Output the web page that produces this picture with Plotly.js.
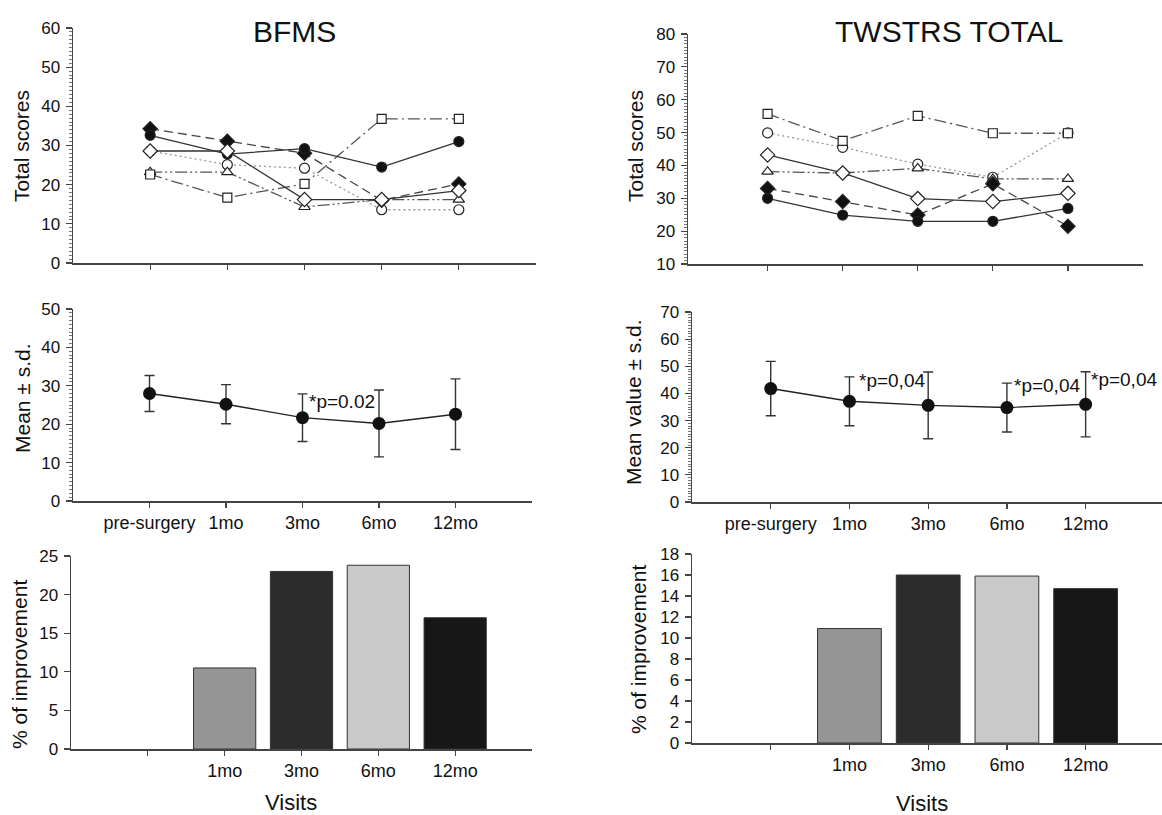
<!DOCTYPE html>
<html><head><meta charset="utf-8">
<script src="https://cdn.plot.ly/plotly-3.0.1.min.js"></script>
<style>html,body{margin:0;padding:0;background:#fff}#chart{width:1162px;height:815px}</style>
</head><body><div id="chart"></div>
<script>
// ---------- data ----------
const visits = ['pre-surgery', '1mo', '3mo', '6mo', '12mo'];
const barTickText = ['', '1mo', '3mo', '6mo', '12mo'];

// BFMS individual patients
const bfmsP1 = [32.6, 27.8, 29.2, 24.5, 31.0];
const bfmsP2 = [34.3, 31.1, 28.0, 16.0, 20.2];
const bfmsP3 = [28.6, 28.6, 16.2, 16.2, 18.5];
const bfmsP4 = [28.6, 25.1, 24.2, 13.6, 13.6];
const bfmsP5 = [23.2, 23.2, 14.3, 16.2, 16.2];
const bfmsP6 = [22.6, 16.7, 20.2, 36.8, 36.8];

// TWSTRS individual patients
const twP1 = [30.0, 24.9, 23.0, 23.0, 26.9];
const twP2 = [33.0, 29.0, 24.9, 34.4, 21.5];
const twP3 = [43.2, 37.7, 29.9, 29.0, 31.5];
const twP4 = [49.9, 45.5, 40.4, 36.4, 49.9];
const twP5 = [38.1, 37.7, 39.1, 35.9, 35.9];
const twP6 = [55.7, 47.5, 55.1, 49.8, 49.8];

// means and s.d.
const bfmsMean = [28.0, 25.2, 21.7, 20.2, 22.6];
const bfmsSD   = [4.7, 5.1, 6.2, 8.7, 9.2];
const twMean   = [41.8, 37.1, 35.6, 34.8, 36.0];
const twSD     = [10.0, 9.0, 12.3, 9.0, 12.0];

// % of improvement
const bfmsImp = [null, 10.5, 23.0, 23.8, 17.0];
const twImp   = [null, 10.9, 16.0, 15.9, 14.7];

// significance labels
const bfmsPText = ['3mo'];
const twPText = ['1mo', '6mo', '12mo'];

// ---------- styles ----------
const FONT = 'Liberation Sans, Arial, Helvetica, sans-serif';
const AX = '#444';
const barColors = ['#ffffff', '#959595', '#2c2c2c', '#c9c9c9', '#171717'];
const patientStyles = [
  {symbol: 'circle', fill: '#111', size: 10, dash: 'solid', lc: '#333'},
  {symbol: 'diamond', fill: '#111', size: 11, dash: '9px,5px', lc: '#444'},
  {symbol: 'diamond', fill: '#fff', size: 11, dash: 'solid', lc: '#333'},
  {symbol: 'circle', fill: '#fff', size: 10, dash: '2px,3px', lc: '#999'},
  {symbol: 'triangle-up', fill: '#fff', size: 10, dash: '12px,3px,2px,3px,2px,3px', lc: '#555'},
  {symbol: 'square', fill: '#fff', size: 9, dash: '12px,4px,2px,4px', lc: '#555'}
];
const order = [3, 4, 5, 1, 0, 2];

function patientTraces(series, xa, ya) {
  return order.map(i => {
    const s = patientStyles[i];
    return {
      type: 'scatter', mode: 'lines+markers', x: visits, y: series[i],
      xaxis: xa, yaxis: ya, showlegend: false, hoverinfo: 'y',
      line: {color: s.lc, width: 1.3, dash: s.dash},
      marker: {symbol: s.symbol, size: s.size, color: s.fill, line: {color: '#222', width: 1.2}}
    };
  });
}

const traces = [].concat(
  patientTraces([bfmsP1, bfmsP2, bfmsP3, bfmsP4, bfmsP5, bfmsP6], 'x', 'y'),
  patientTraces([twP1, twP2, twP3, twP4, twP5, twP6], 'x2', 'y2'),
  [
    {type: 'scatter', mode: 'lines+markers', x: visits, y: bfmsMean, xaxis: 'x3', yaxis: 'y3',
     showlegend: false, line: {color: '#222', width: 1.4},
     marker: {size: 13, color: '#111'},
     error_y: {type: 'data', array: bfmsSD, visible: true, color: '#333', thickness: 1.4, width: 5}},
    {type: 'scatter', mode: 'lines+markers', x: visits, y: twMean, xaxis: 'x4', yaxis: 'y4',
     showlegend: false, line: {color: '#222', width: 1.4},
     marker: {size: 13, color: '#111'},
     error_y: {type: 'data', array: twSD, visible: true, color: '#333', thickness: 1.4, width: 5}},
    {type: 'bar', x: visits, y: bfmsImp, xaxis: 'x5', yaxis: 'y5', showlegend: false,
     marker: {color: barColors, line: {color: '#333', width: 1}}},
    {type: 'bar', x: visits, y: twImp, xaxis: 'x6', yaxis: 'y6', showlegend: false,
     marker: {color: barColors, line: {color: '#333', width: 1}}}
  ]
);

function xax(domain, range, anchor, labels, ticktext) {
  const a = {
    domain: domain, range: range, anchor: anchor, type: 'category',
    categoryorder: 'array', categoryarray: visits,
    showline: true, linecolor: AX, linewidth: 1.5, ticks: 'outside', ticklen: 5,
    tickcolor: AX, tickwidth: 1.2, showgrid: false, zeroline: false,
    showticklabels: labels, tickfont: {family: FONT, size: 18, color: '#111'}, fixedrange: true
  };
  if (ticktext) { a.tickmode = 'array'; a.tickvals = visits; a.ticktext = ticktext; }
  return a;
}
function yax(domain, range, dtick, anchor, minor) {
  const a = {
    domain: domain, range: range, dtick: dtick, anchor: anchor,
    showline: true, linecolor: AX, linewidth: 1.5, ticks: 'outside', ticklen: 6,
    tickcolor: AX, tickwidth: 1.2, showgrid: false, zeroline: false, ticklabelstandoff: 2,
    tickfont: {family: FONT, size: 17, color: '#111'}, fixedrange: true
  };
  if (minor) a.minor = {dtick: 1, ticks: 'outside', ticklen: 3, tickcolor: '#777', tickwidth: 1};
  return a;
}

const W = 1162, H = 815;
const px = v => v / W, py = v => 1 - v / H;

function ytitle(text, x, y) {
  return {text: text, xref: 'paper', yref: 'paper', x: px(x), y: py(y), textangle: -90,
    showarrow: false, xanchor: 'center', yanchor: 'middle', font: {family: FONT, size: 21, color: '#111'}};
}
function ptext(xa, ya, x, y, shift) {
  return {text: '*p=' + (xa === 'x3' ? '0.02' : '0,04'),
    xref: xa, yref: ya, x: x, y: y, xanchor: 'left', yanchor: 'middle', xshift: shift,
    showarrow: false, font: {family: FONT, size: 19, color: '#111'}};
}

const layout = {
  width: W, height: H, margin: {l: 0, r: 0, t: 0, b: 0},
  paper_bgcolor: '#fff', plot_bgcolor: '#fff', showlegend: false, bargap: 0.19,
  font: {family: FONT, color: '#111'},
  xaxis:  xax([px(73), px(536)], [-1, 5], 'y', false),
  yaxis:  yax([py(263), py(28)], [0, 60], 10, 'x', true),
  xaxis2: xax([px(688), px(1143)], [-1.06, 5], 'y2', false),
  yaxis2: yax([py(264), py(34)], [10, 80], 10, 'x2', true),
  xaxis3: xax([px(73), px(532)], [-1, 5], 'y3', true),
  yaxis3: yax([py(501), py(309)], [0, 50], 10, 'x3', true),
  xaxis4: xax([px(692), px(1162)], [-1, 4.97], 'y4', true),
  yaxis4: yax([py(502), py(312)], [0, 70], 10, 'x4', true),
  xaxis5: xax([px(71), px(532)], [-1, 5], 'y5', true, barTickText),
  yaxis5: yax([py(749), py(556)], [0, 25], 5, 'x5', false),
  xaxis6: xax([px(692), px(1162)], [-1, 4.97], 'y6', true, barTickText),
  yaxis6: yax([py(743), py(554)], [0, 18], 2, 'x6', false),
  annotations: [
    {text: 'BFMS', xref: 'paper', yref: 'paper', x: px(294), y: py(31), showarrow: false,
     xanchor: 'center', yanchor: 'middle', font: {family: FONT, size: 30, color: '#111'}},
    {text: 'TWSTRS TOTAL', xref: 'paper', yref: 'paper', x: px(949), y: py(31), showarrow: false,
     xanchor: 'center', yanchor: 'middle', font: {family: FONT, size: 30, color: '#111'}},
    ytitle('Total scores', 22, 146),
    ytitle('Total scores', 636, 146),
    ytitle('Mean ± s.d.', 22, 398),
    ytitle('Mean value ± s.d.', 633, 402),
    ytitle('% of improvement', 19, 665),
    ytitle('% of improvement', 638, 650),
    {text: 'Visits', xref: 'paper', yref: 'paper', x: px(291), y: py(802), showarrow: false,
     xanchor: 'center', yanchor: 'middle', font: {family: FONT, size: 22, color: '#111'}},
    {text: 'Visits', xref: 'paper', yref: 'paper', x: px(922), y: py(803), showarrow: false,
     xanchor: 'center', yanchor: 'middle', font: {family: FONT, size: 22, color: '#111'}},
    ptext('x3', 'y3', bfmsPText[0], 26.0, 4),
    ptext('x4', 'y4', twPText[0], 44.8, 8),
    ptext('x4', 'y4', twPText[1], 43.0, 5),
    ptext('x4', 'y4', twPText[2], 45.0, 3)
  ]
};

Plotly.newPlot('chart', traces, layout, {staticPlot: true, displayModeBar: false});
</script>
</body></html>
